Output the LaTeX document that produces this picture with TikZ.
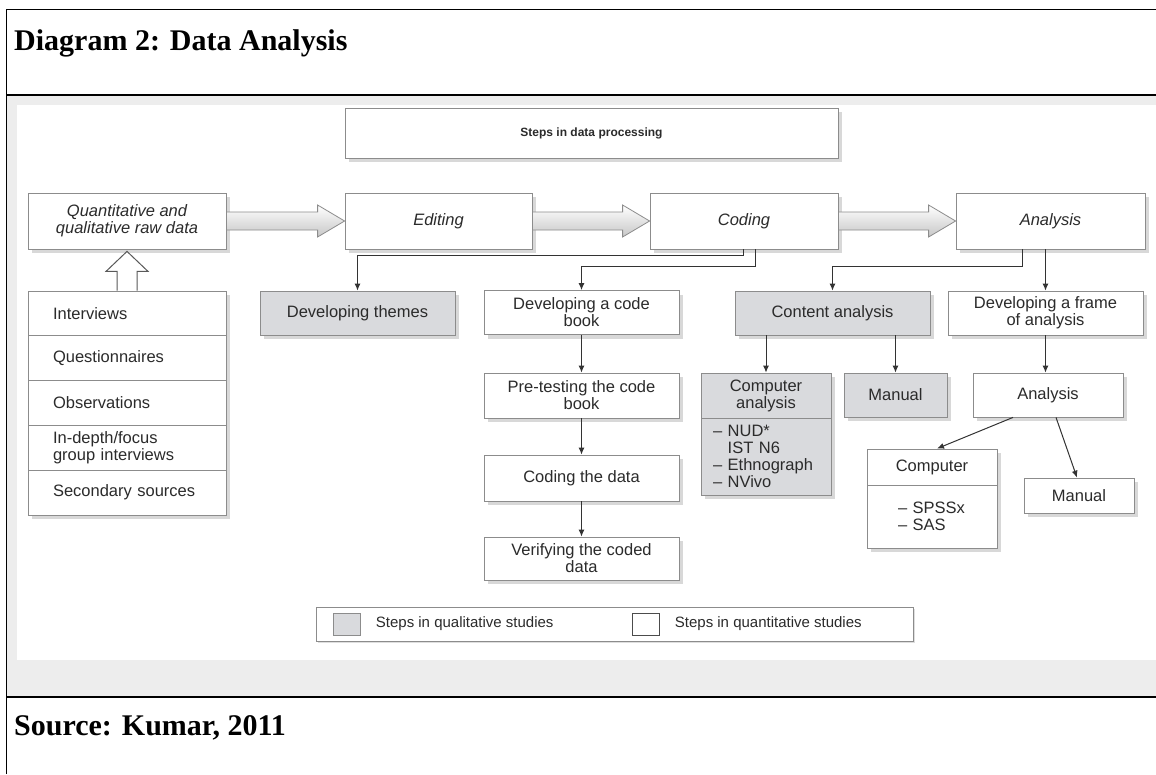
\documentclass[tikz,border=0pt]{standalone}
\usepackage{fontspec}
\setmainfont{Liberation Serif}
\setsansfont{Liberation Sans}
\usetikzlibrary{positioning,calc,shadows,arrows.meta}

\definecolor{panelgray}{HTML}{EDEDED}
\definecolor{boxgray}{HTML}{D9DADD}
\definecolor{linegray}{HTML}{8C8C8C}
\definecolor{textgray}{HTML}{2B2B2B}

% hollow block arrow between two stages
\newcommand{\fatarrow}[2]{%
  \draw[fat] ($(#1.east)+(0,-9)$) -- ($(#2.west)+(-27,-9)$) -- ($(#2.west)+(-27,-16)$)
    -- (#2.west) -- ($(#2.west)+(-27,16)$) -- ($(#2.west)+(-27,9)$) -- ($(#1.east)+(0,9)$) -- cycle;}

\begin{document}
\begin{tikzpicture}[x=1pt,y=-1pt,
	box/.style={draw=linegray,fill=white,line width=0.8pt,text=textgray,align=center,inner sep=2pt,
		font=\sffamily\fontsize{16.5}{17}\selectfont,
		drop shadow={shadow xshift=4pt,shadow yshift=-4pt,fill=black!30}},
	qualbox/.style={box,fill=boxgray},
	stage/.style={box,minimum width=188,minimum height=56,font=\sffamily\itshape\fontsize{16.5}{17}\selectfont},
	rowbox/.style={box,align=left,inner xsep=25pt,text width=148,minimum height=44.8},
	conn/.style={draw=black!80,line width=1pt,-{Latex[length=7pt,width=6pt]}},
	fat/.style={draw=linegray,line width=0.8pt,top color=white,bottom color=black!22},
	hollow/.style={draw=black!65,line width=1pt,fill=white},
	legendtext/.style={font=\sffamily\fontsize{15}{17}\selectfont,text=textgray,inner sep=0pt},
	heading/.style={font=\bfseries\fontsize{30}{36}\selectfont,anchor=base west,inner sep=0pt}]
	\useasboundingbox (0,0) rectangle (1156,774);
	% page frame and panel
	\fill[panelgray] (6.5,95) rectangle (1156,697);
	\fill[white] (17,105) rectangle (1156,660);
	\draw[line width=1.3pt] (6.5,774) -- (6.5,9.3) -- (1156,9.3);
	\draw[line width=1.3pt] (6.5,95) -- (1156,95);
	\draw[line width=1.3pt] (6.5,697) -- (1156,697);
	\node[heading] (title) at (14,50) {Diagram 2: Data Analysis};
	\node[heading] (source) at (14,735) {Source: Kumar, 2011};

	% stages
	\node[box,minimum width=493,minimum height=50,font=\sffamily\bfseries\fontsize{12}{14}\selectfont] (steps) at (591.5,133) {Steps in data processing};
	\node[stage,minimum width=198] (raw) at (127,221) {Quantitative and\\qualitative raw data};
	\node[stage,minimum width=187] (edit) at (438.5,221) {Editing};
	\node[stage] (coding) at (744,221) {Coding};
	\node[stage,minimum width=189] (analysis) at (1050.5,221) {Analysis};
	\fatarrow{raw}{edit}
	\fatarrow{edit}{coding}
	\fatarrow{coding}{analysis}

	% sources of raw data
	\foreach \txt [count=\i] in {Interviews,Questionnaires,Observations,{In-depth/focus\\group interviews},Secondary sources}
		\node[rowbox] (src\i) at (127,268.6+\i*44.8) {\txt};
	\draw[hollow] ($(src1.north)+(-10,0)$) -- ($(raw.south)+(-10,22)$) -- ($(raw.south)+(-21,22)$)
		-- ($(raw.south)+(0,2)$) -- ($(raw.south)+(21,22)$) -- ($(raw.south)+(10,22)$) -- ($(src1.north)+(10,0)$);

	% second row
	\node[qualbox,minimum width=195,minimum height=44] (themes) at (357.5,313) {Developing themes};
	\node[box,minimum width=195,minimum height=44] (book) at (581.5,312.5) {Developing a code\\book};
	\node[qualbox,minimum width=195,minimum height=44] (content) at (832.5,313) {Content analysis};
	\node[box,minimum width=195,minimum height=44] (frame) at (1045.5,313) {Developing a frame\\of analysis};

	% code book column
	\node[box,minimum width=195,minimum height=45] (pretest) at (581.5,395.5) {Pre-testing the code\\book};
	\node[box,minimum width=195,minimum height=46] (coddata) at (581.5,478) {Coding the data};
	\node[box,minimum width=195,minimum height=43] (verify) at (581.5,558.5) {Verifying the coded\\data};

	% content analysis column
	\node[qualbox,minimum width=130,minimum height=45] (compan) at (766,395.5) {Computer\\analysis};
	\node[qualbox,minimum width=130,minimum height=77,align=left,inner xsep=12pt,text width=106] (compsw) at (766,456.5)
		{\textendash\ NUD*\\\phantom{\textendash\ }IST N6\\\textendash\ Ethnograph\\\textendash\ NVivo};
	\node[qualbox,minimum width=103,minimum height=44] (manualA) at (895.5,395) {Manual};

	% frame of analysis column
	\node[box,minimum width=150,minimum height=44] (anal2) at (1048,395) {Analysis};
	\node[box,minimum width=130,minimum height=36] (comp) at (932,467) {Computer};
	\node[box,minimum width=130,minimum height=63,align=left,inner xsep=31pt,text width=68] (compb) at (932,516.5)
		{\textendash\ SPSSx\\\textendash\ SAS};
	\node[box,minimum width=110,minimum height=35] (manualB) at (1079,495.5) {Manual};

	% connectors
	\draw[conn] ([xshift=-1pt]coding.south) -- ++(0,6) -| (themes.north);
	\draw[conn] ([xshift=11pt]coding.south) -- ++(0,17) -| (book.north);
	\draw[conn] ([xshift=-28.5pt]analysis.south) -- ++(0,17) -| (content.north);
	\draw[conn] (analysis.south -| frame.north) -- (frame.north);
	\draw[conn] (book.south) -- (pretest.north);
	\draw[conn] (pretest.south) -- (coddata.north);
	\draw[conn] (coddata.south) -- (verify.north);
	\draw[conn] (content.south -| compan.north) -- (compan.north);
	\draw[conn] (content.south -| manualA.north) -- (manualA.north);
	\draw[conn] (frame.south) -- (frame.south |- anal2.north);
	\draw[conn] ([xshift=-35pt]anal2.south) -- ([xshift=5pt]comp.north);
	\draw[conn] ([xshift=8pt]anal2.south) -- ([xshift=-2pt]manualB.north);

	% legend
	\node[draw=linegray,fill=white,line width=0.8pt,minimum width=597,minimum height=34,
		drop shadow={shadow xshift=2pt,shadow yshift=-2pt,fill=black!25}] (legend) at (614.5,624) {};
	\node[draw=linegray,fill=boxgray,minimum width=27,minimum height=22] (qualkey) at (347,624) {};
	\node[legendtext,right=15pt of qualkey] (qualtxt) {Steps in qualitative studies};
	\node[draw=black!70,fill=white,minimum width=27,minimum height=22] (quantkey) at (646,624) {};
	\node[legendtext,right=15pt of quantkey] (quanttxt) {Steps in quantitative studies};
\end{tikzpicture}
\end{document}
